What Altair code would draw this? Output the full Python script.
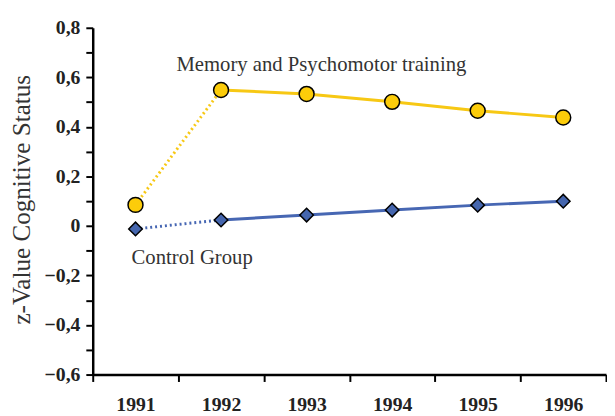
import altair as alt
import pandas as pd

years = [1991, 1992, 1993, 1994, 1995, 1996]
memory = [0.085, 0.549, 0.533, 0.501, 0.465, 0.438]
control = [-0.012, 0.024, 0.044, 0.064, 0.084, 0.100]
groups = ["Memory and Psychomotor training", "Control Group"]
y_ticks = [-0.6, -0.5, -0.4, -0.3, -0.2, -0.1, 0.0, 0.1, 0.2, 0.3, 0.4, 0.5, 0.6, 0.7, 0.8]

rows = []
for yr, v in zip(years, memory):
    rows.append({"year": yr, "value": v, "group": groups[0]})
for yr, v in zip(years, control):
    rows.append({"year": yr, "value": v, "group": groups[1]})
df = pd.DataFrame(rows)

ann = pd.DataFrame({
    "year": [1993, 1991],
    "value": [0.65, -0.128],
    "label": groups,
})

FONT = "'Liberation Serif', 'Times New Roman', serif"
yellow_line = "#F7C814"
yellow_fill = "#FCCC0A"
blue_line = "#4767B3"
blue_fill = "#4566AE"

xenc = alt.X("year:O", title=None,
             scale=alt.Scale(paddingInner=0, paddingOuter=0),
             axis=alt.Axis(labelAngle=0, tickBand="extent", labelFont=FONT,
                           labelFontSize=20, labelFontWeight="bold", labelColor="#222222",
                           domainColor="black", domainWidth=2.5, tickColor="black",
                           tickWidth=2, tickSize=7, labelPadding=13, grid=False))
yenc = alt.Y("value:Q", title="z-Value Cognitive Status",
             scale=alt.Scale(domain=[-0.6, 0.8], nice=False, zero=False),
             axis=alt.Axis(values=y_ticks, grid=False,
                           labelExpr="abs(round(datum.value*10)) % 2 == 1 ? '' : (round(datum.value*10) == 0 ? '0' : replace(format(datum.value, '.1f'), '.', ','))",
                           labelFont=FONT, labelFontSize=20, labelFontWeight="bold",
                           labelColor="#222222", labelPadding=6,
                           domainColor="black", domainWidth=2.5, tickColor="black",
                           tickWidth=2, tickSize=7,
                           titleFont=FONT, titleFontSize=25.5, titleFontWeight="normal",
                           titleColor="#333333", titleAngle=270, titleAlign="center",
                           titleBaseline="alphabetic", titleX=-64, titleY=174))

color = alt.Color("group:N", scale=alt.Scale(domain=groups, range=[yellow_line, blue_line]), legend=None)

dotted = alt.Chart(df).transform_filter("datum.year <= 1992").mark_line(
    strokeWidth=3, strokeDash=[2, 3]).encode(x=xenc, y=yenc, color=color, detail="group:N")
solid = alt.Chart(df).transform_filter("datum.year >= 1992").mark_line(
    strokeWidth=3).encode(x=xenc, y=yenc, color=color, detail="group:N")
points = alt.Chart(df).mark_point(filled=True, stroke="black", strokeWidth=1.5, opacity=1).encode(
    x=xenc, y=yenc,
    fill=alt.Fill("group:N", scale=alt.Scale(domain=groups, range=[yellow_fill, blue_fill]), legend=None),
    shape=alt.Shape("group:N", scale=alt.Scale(domain=groups, range=["circle", "diamond"]), legend=None),
    size=alt.Size("group:N", scale=alt.Scale(domain=groups, range=[230, 190]), legend=None),
)
text1 = alt.Chart(ann).transform_filter("datum.year == 1993").mark_text(
    font=FONT, fontSize=21, color="#333333", align="center", baseline="middle", dx=15).encode(
    x=xenc, y=yenc, text="label:N")
text2 = alt.Chart(ann).transform_filter("datum.year == 1991").mark_text(
    font=FONT, fontSize=21, color="#333333", align="left", baseline="middle", dx=-4).encode(
    x=xenc, y=yenc, text="label:N")

chart = alt.layer(dotted, solid, points, text1, text2).properties(
    width=521, height=352,
    padding={"left": 2, "top": 7, "right": 0, "bottom": 0},
    background="white",
).configure_view(stroke=None)

chart.save("out.html", embed_options={"renderer": "svg", "actions": False})
